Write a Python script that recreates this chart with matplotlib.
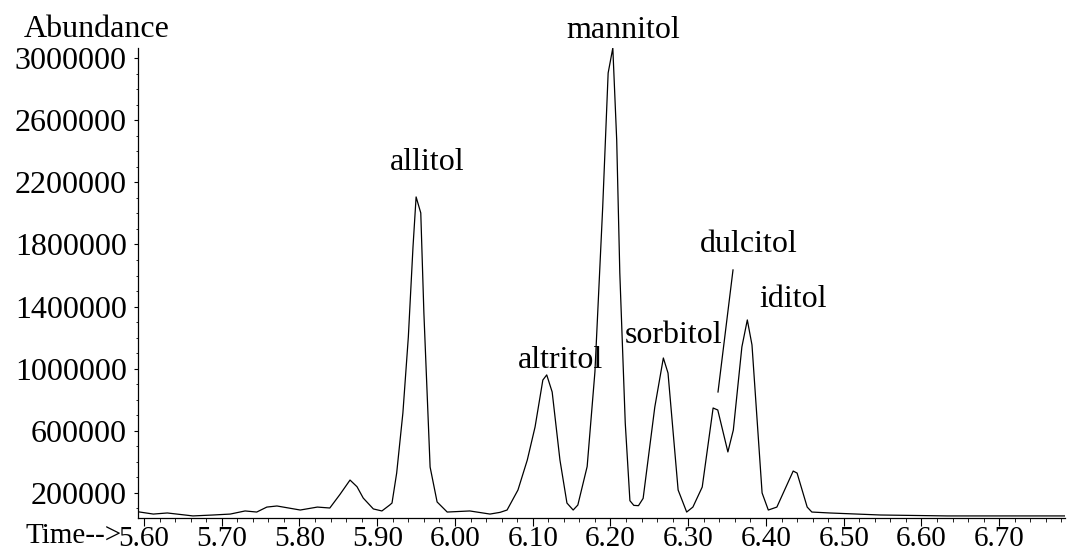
import matplotlib
matplotlib.use("Agg")
import matplotlib.pyplot as plt
from matplotlib.ticker import MultipleLocator, FixedLocator
import matplotlib.transforms as mtransforms

# ---- data ----
time = [5.592, 5.612, 5.630, 5.663, 5.689, 5.711, 5.730, 5.745, 5.758, 5.771,
        5.801, 5.823, 5.839, 5.852, 5.865, 5.874, 5.882, 5.895, 5.906, 5.916, 5.919, 5.925,
        5.933, 5.940, 5.946, 5.950, 5.956, 5.960, 5.968, 5.977, 5.990, 6.019,
        6.045, 6.058, 6.067, 6.081, 6.093, 6.103, 6.113, 6.118, 6.125, 6.135,
        6.144, 6.152, 6.158, 6.170, 6.180, 6.190, 6.197, 6.203, 6.208, 6.212,
        6.219, 6.225, 6.230, 6.236, 6.242, 6.257, 6.268, 6.274, 6.287, 6.298, 6.306,
        6.318, 6.332, 6.338, 6.351, 6.358, 6.369, 6.376, 6.382, 6.395, 6.403,
        6.414, 6.435, 6.440, 6.453, 6.459, 6.482, 6.547, 6.633, 6.718, 6.785]
abundance = [79000, 64000, 71000, 52000, 58000, 64000, 84000, 77000, 109000, 116000,
             90000, 109000, 103000, 190000, 283000, 240000, 167000, 97000, 84000, 122000, 135000, 328000,
             715000, 1204000, 1784000, 2106000, 2003000, 1359000, 367000, 142000, 77000, 84000,
             64000, 75000, 90000, 219000, 412000, 625000, 927000, 960000, 850000, 412000,
             135000, 90000, 122000, 370000, 980000, 2041000, 2904000, 3065000, 2473000, 1616000,
             650000, 150000, 120000, 118000, 165000, 753000, 1069000, 972000, 219000, 77000, 109000,
             238000, 747000, 734000, 464000, 605000, 1140000, 1314000, 1153000, 200000, 90000,
             109000, 341000, 328000, 109000, 77000, 71000, 58000, 52000, 52000, 52000]

peak_names = ["allitol", "mannitol", "altritol", "sorbitol", "dulcitol", "iditol"]
label_time = [5.9646, 6.216, 6.1363, 6.2817, 6.3781, 6.4347]
label_abund = [2280000, 3130000, 1005000, 1166000, 1752000, 1397000]

dulcitol_line_time = [6.3576, 6.3383]
dulcitol_line_abund = [1636000, 850000]

x_ticks = [5.60, 5.70, 5.80, 5.90, 6.00, 6.10, 6.20, 6.30, 6.40, 6.50, 6.60, 6.70]
y_ticks = [200000, 600000, 1000000, 1400000, 1800000, 2200000, 2600000, 3000000]

# ---- style ----
plt.rcParams['font.family'] = ['Liberation Serif', 'DejaVu Serif']
FS = 23
FSX = 21

fig = plt.figure(figsize=(10.68, 5.53), dpi=100)
ax = fig.add_axes([138/1068, 1-518/553, (1065-138)/1068, (518-48)/553])

ax.plot(time, abundance, color='black', lw=0.9)
ax.plot(dulcitol_line_time, dulcitol_line_abund, color='black', lw=0.9)

for name, tx, ty in zip(peak_names, label_time, label_abund):
    ax.text(tx, ty, name, ha='center', va='baseline', fontsize=FS, clip_on=False)

ax.set_xlim(5.5923, 6.7846)
ax.set_ylim(38640, 3065000)

for s in ['top', 'right']:
    ax.spines[s].set_visible(False)
ax.spines['left'].set_linewidth(0.9)
ax.spines['bottom'].set_linewidth(0.9)

ax.xaxis.set_major_locator(FixedLocator(x_ticks))
ax.set_xticklabels([f"{v:.2f}" for v in x_ticks])
ax.xaxis.set_minor_locator(MultipleLocator(0.02))
ax.yaxis.set_major_locator(FixedLocator(y_ticks))
ax.set_yticklabels([str(v) for v in y_ticks])
ax.yaxis.set_minor_locator(MultipleLocator(100000))

ax.tick_params(axis='x', which='major', length=6, width=0.8, pad=-0.5, labelsize=FSX)
ax.tick_params(axis='x', which='minor', length=3, width=0.6)
ax.tick_params(axis='y', which='major', length=3, width=0.8, pad=5, labelsize=FS)
ax.tick_params(axis='y', which='minor', length=1.5, width=0.6)

fig.text(97/1068, 1-37/553, "Abundance", ha='center', va='baseline', fontsize=FS)

trans = mtransforms.blended_transform_factory(ax.transData, ax.transAxes)
ax.annotate("Time-->", xy=(5.60, 0), xycoords=trans, xytext=(-22, -5.3),
            textcoords='offset pixels', ha='right', va='top', fontsize=FSX,
            annotation_clip=False)

fig.savefig("out.png", dpi=100)
